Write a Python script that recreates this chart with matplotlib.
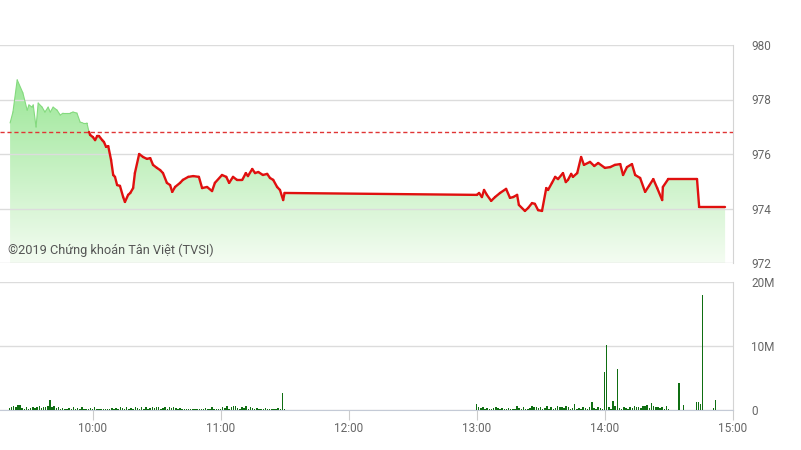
import numpy as np
import matplotlib.pyplot as plt
from matplotlib.collections import LineCollection
from matplotlib.colors import LinearSegmentedColormap

plt.rcParams["font.family"] = "Roboto"

REF_PRICE = 976.8

price_time = [
    "09:21:20", "09:22:40", "09:24:40", "09:27:20", "09:29:20", "09:30:10", "09:31:40", "09:32:10",
    "09:33:30", "09:34:30", "09:36:20", "09:37:40", "09:39:10", "09:40:10", "09:41:30", "09:43:20",
    "09:44:50", "09:46:10", "09:48:00", "09:49:30", "09:50:50", "09:52:40", "09:54:10", "09:55:30",
    "09:57:20", "09:58:20",
    "09:58:50", "10:00:10", "10:01:10", "10:02:10", "10:03:00", "10:04:30", "10:05:20", "10:06:20",
    "10:07:20", "10:08:40", "10:09:40", "10:10:30", "10:11:30", "10:12:50", "10:14:20", "10:15:10",
    "10:16:40", "10:17:40", "10:19:00", "10:19:50", "10:21:50", "10:23:40", "10:25:30", "10:27:00",
    "10:28:20", "10:30:10", "10:31:40", "10:33:00", "10:34:50", "10:36:20", "10:37:20", "10:38:40",
    "10:41:00", "10:42:20", "10:44:50", "10:47:10", "10:49:50", "10:51:20", "10:53:40", "10:56:00",
    "10:57:20", "11:00:40", "11:02:40", "11:04:00", "11:05:50", "11:07:40", "11:10:10", "11:11:50",
    "11:12:50", "11:14:50", "11:16:10", "11:17:40", "11:19:50", "11:21:50", "11:23:10", "11:24:40",
    "11:26:30", "11:27:50", "11:29:20", "11:30:00",
    "13:00:10", "13:01:10", "13:02:30", "13:03:30", "13:04:50", "13:06:50", "13:08:40", "13:11:00",
    "13:13:50", "13:15:40", "13:17:10", "13:19:00", "13:19:50", "13:22:40", "13:24:10", "13:26:00",
    "13:27:20", "13:28:50", "13:30:40", "13:32:40", "13:33:30", "13:35:20", "13:36:50", "13:38:10",
    "13:40:30", "13:41:50", "13:42:50", "13:44:20", "13:45:10", "13:47:10", "13:49:00", "13:50:20",
    "13:53:10", "13:55:10", "13:57:00", "14:00:10", "14:02:40", "14:04:50", "14:07:20", "14:08:40",
    "14:10:30", "14:12:50", "14:14:20", "14:16:40", "14:19:00", "14:20:50", "14:22:50", "14:24:40",
    "14:27:00", "14:27:20", "14:29:50", "14:43:20", "14:44:20", "14:56:30",
]
price = [
    977.14, 977.54, 978.72, 978.24, 977.61, 977.80, 977.72, 977.80,
    976.99, 977.87, 977.72, 977.54, 977.72, 977.54, 977.72, 977.61,
    977.43, 977.50, 977.50, 977.50, 977.54, 977.50, 977.17, 977.14,
    977.14, 976.81,
    976.70, 976.62, 976.51, 976.66, 976.66, 976.51, 976.44, 976.26,
    976.29, 975.78, 975.23, 975.16, 974.86, 974.83, 974.42, 974.24,
    974.50, 974.57, 974.75, 975.30, 976.00, 975.89, 975.82, 975.85,
    975.60, 975.49, 975.41, 975.30, 974.94, 974.86, 974.61, 974.79,
    974.94, 975.05, 975.16, 975.19, 975.16, 974.75, 974.79, 974.64,
    974.94, 975.23, 975.16, 974.94, 975.16, 975.05, 975.05, 975.30,
    975.19, 975.45, 975.30, 975.34, 975.23, 975.27, 975.12, 975.05,
    974.79, 974.68, 974.31, 974.57,
    974.50, 974.57, 974.42, 974.68, 974.50, 974.28, 974.42, 974.57,
    974.72, 974.39, 974.42, 974.50, 974.13, 973.91, 974.02, 974.20,
    974.17, 973.94, 973.91, 974.75, 974.68, 974.94, 975.16, 975.08,
    975.30, 974.97, 975.05, 975.27, 975.16, 975.30, 975.89, 975.60,
    975.71, 975.56, 975.67, 975.49, 975.52, 975.60, 975.63, 975.23,
    975.52, 975.63, 975.23, 975.12, 974.61, 974.83, 975.08, 974.75,
    974.31, 974.79, 975.08, 975.08, 974.06, 974.06,
]

# volume per minute, millions of shares
vol_am_start = "09:21:00"
vol_am = [
    0.3, 0.5, 0.6, 0.4, 0.8, 0.8, 0.3, 0.2, 0.4, 0.2,
    0.3, 0.5, 0.3, 0.4, 0.6, 0.3, 0.5, 0.4, 0.7, 1.5,
    0.5, 0.6, 0.3, 0.4, 0.2, 0.3, 0.2, 0.1, 0.3, 0.2,
    0.4, 0.2, 0.3, 0.1, 0.5, 0.2, 0.1, 0.2, 0.3, 0.1,
    0.4, 0.2, 0.1, 0.1, 0.2, 0.1, 0.1, 0.2, 0.3, 0.2,
    0.3, 0.2, 0.4, 0.3, 0.2, 0.5, 0.2, 0.3, 0.1, 0.4,
    0.3, 0.2, 0.4, 0.2, 0.5, 0.2, 0.3, 0.5, 0.3, 0.4,
    0.5, 0.2, 0.3, 0.5, 0.2, 0.4, 0.3, 0.5, 0.3, 0.2,
    0.3, 0.2, 0.1, 0.2, 0.1, 0.2, 0.1, 0.1, 0.2, 0.1,
    0.2, 0.1, 0.3, 0.1, 0.2, 0.4, 0.2, 0.2, 0.1, 0.2,
    0.4, 0.3, 0.6, 0.2, 0.5, 0.6, 0.6, 0.3, 0.2, 0.4,
    0.3, 0.6, 0.2, 0.5, 0.3, 0.2, 0.3, 0.2, 0.1, 0.2,
    0.3, 0.2, 0.1, 0.2, 0.1, 0.2, 0.3, 0.2, 2.6, 0.2,
]
vol_pm_start = "13:00:00"
vol_pm = [
    0.9, 0.5, 0.3, 0.4, 0.2, 0.3, 0.1, 0.2, 0.3, 0.5,
    0.3, 0.2, 0.3, 0.1, 0.2, 0.3, 0.2, 0.2, 0.1, 0.7,
    0.3, 0.2, 0.4, 0.1, 0.2, 0.3, 0.6, 0.5, 0.4, 0.3,
    0.5, 0.2, 0.3, 0.7, 0.2, 0.4, 0.2, 0.3, 0.6, 0.4,
    0.5, 0.3, 0.6, 0.4, 0.2, 0.3, 1.0, 0.2, 0.3, 0.2,
    0.4, 0.3, 0.2, 0.5, 1.2, 0.3, 0.2, 0.4, 0.3, 0.2,
    5.9, 10.2, 0.4, 0.2, 1.4, 0.7, 6.4, 0.3, 0.2, 0.4,
    0.3, 0.2, 0.5, 0.3, 0.6, 0.5, 0.4, 0.3, 0.7, 0.6,
    0.8, 0.3, 1.1, 0.6, 0.4, 0.5, 0.3, 0.4, 0.2, 0.6,
    0.1, 0.0, 0.0, 0.0, 0.0, 4.2, 0.0, 0.8, 0.0, 0.0,
    0.0, 0.0, 0.0, 1.2, 1.2, 0.9, 18.0, 0.0, 0.0, 0.0,
    0.0, 0.3, 1.5,
]

price_ticks = [972, 974, 976, 978, 980]
vol_ticks = [0, 10, 20]
vol_tick_labels = ["0", "10M", "20M"]
hour_ticks = ["10:00", "11:00", "12:00", "13:00", "14:00", "15:00"]


def to_min(s):
    parts = [int(p) for p in s.split(":")] + [0]
    return parts[0] * 60 + parts[1] + parts[2] / 60


t = np.array([to_min(s) for s in price_time])
p = np.array(price)
t_vol = np.concatenate([to_min(vol_am_start) + np.arange(len(vol_am)),
                        to_min(vol_pm_start) + np.arange(len(vol_pm))])
v = np.array(vol_am + vol_pm)

W, H = 801, 450
fig = plt.figure(figsize=(W / 100, H / 100), dpi=100)
ax1 = fig.add_axes([0, 1 - 263 / H, 733 / W, (263 - 45) / H])
ax2 = fig.add_axes([0, 1 - 410 / H, 733 / W, (410 - 282) / H])
XLIM = (556.6, 900.2)

# price panel
ax1.set_xlim(*XLIM)
ax1.set_ylim(972, 980)
cmap = LinearSegmentedColormap.from_list("g", ["#f4fcf2", "#8ae385"])
grad = np.linspace(0, 1, 256).reshape(-1, 1)
im = ax1.imshow(grad, cmap=cmap, origin="lower", aspect="auto",
                extent=[XLIM[0], XLIM[1], 972, 980], zorder=1)
poly = ax1.fill_between(t, p, 972, color="none", lw=0)
im.set_clip_path(poly.get_paths()[0], transform=ax1.transData)

pts = np.column_stack([t, p])
segs = np.stack([pts[:-1], pts[1:]], axis=1)
above = (p[:-1] >= REF_PRICE) & (p[1:] >= REF_PRICE)
lc = LineCollection(segs, colors=np.where(above, "#84da7e", "#e0100f"),
                    linewidths=np.where(above, 0.8, 1.7), zorder=3,
                    capstyle="round", joinstyle="round")
ax1.add_collection(lc)
ax1.axhline(REF_PRICE, color="#e03535", lw=1, ls=(0, (3, 2)), zorder=4)

ax1.set_yticks(price_ticks)
ax1.yaxis.tick_right()
ax1.tick_params(axis="y", length=0, pad=13, labelsize=8.5, labelcolor="#666666")
ax1.set_xticks([])
ax1.grid(axis="y", color="#dcdcdc", lw=1, zorder=0)
for s in ["top", "left", "bottom"]:
    ax1.spines[s].set_visible(False)
ax1.spines["right"].set_color("#d4d4d4")
fig.text(8 / W, 1 - 254 / H, "©2019 Chứng khoán Tân Việt (TVSI)", fontsize=9.2,
         color="#555555", va="baseline", ha="left")

# volume panel
ax2.bar(t_vol, v, width=0.7, color="#0f6e12", zorder=3)
ax2.set_xlim(*XLIM)
ax2.set_ylim(0, 20)
ax2.set_yticks(vol_ticks)
ax2.set_yticklabels(vol_tick_labels)
ax2.yaxis.tick_right()
ax2.tick_params(axis="y", length=0, pad=13, labelsize=8.5, labelcolor="#666666")
ax2.set_xticks([to_min(h) for h in hour_ticks])
ax2.set_xticklabels(hour_ticks)
ax2.tick_params(axis="x", length=7, color="#cccccc", pad=2, labelsize=8.5,
                labelcolor="#666666")
ax2.grid(axis="y", color="#dcdcdc", lw=1, zorder=0)
for s in ["top", "left"]:
    ax2.spines[s].set_visible(False)
ax2.spines["right"].set_color("#d4d4d4")
ax2.spines["bottom"].set_color("#c4cad6")

fig.savefig("out.png", dpi=100)
